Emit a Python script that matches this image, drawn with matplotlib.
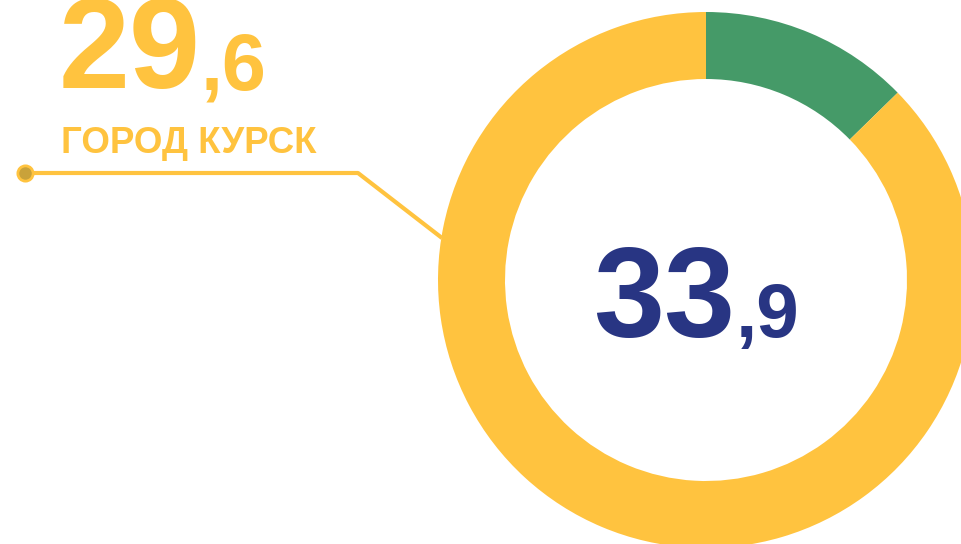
import matplotlib.pyplot as plt

# данные
labels = ["Прочие", "Город Курск"]
shares = [4.3, 29.6]
total_int, total_dec = "33", ",9"
kursk_int, kursk_dec = "29", ",6"
kursk_label = "ГОРОД КУРСК"

YELLOW = "#FFC33F"
GREEN = "#459A68"
BLUE = "#283583"
DOT = "#C9A23A"

W, H = 961, 544
fig = plt.figure(figsize=(9.61, 5.44), dpi=100)
ax = fig.add_axes([0, 0, 1, 1])

def Y(y):
    # пиксельная координата сверху -> снизу
    return H - y

# кольцевая диаграмма
ax.pie(shares, colors=[GREEN, YELLOW], startangle=90, counterclock=False,
       center=(706, Y(280)), radius=268,
       wedgeprops=dict(width=67, edgecolor="none", linewidth=0))

# выноска
ax.plot([25, 358, 442], [Y(173), Y(173), Y(238)], color=YELLOW, lw=3,
        solid_capstyle="butt", zorder=0)
ax.plot([25], [Y(173)], marker="o", ms=11, mfc=DOT, mec=YELLOW, mew=2, zorder=3)

font = "Liberation Sans"
ax.text(59, Y(88), kursk_int, fontsize=92, fontweight="bold", color=YELLOW,
        family=font, ha="left", va="baseline")
ax.text(201, Y(89), kursk_dec, fontsize=57, fontweight="bold", color=YELLOW,
        family=font, ha="left", va="baseline")
ax.text(61, Y(153), kursk_label, fontsize=26.4, fontweight="bold", color=YELLOW,
        family=font, ha="left", va="baseline")

ax.text(593, Y(337), total_int, fontsize=92, fontweight="bold", color=BLUE,
        family=font, ha="left", va="baseline")
ax.text(736, Y(337), total_dec, fontsize=55, fontweight="bold", color=BLUE,
        family=font, ha="left", va="baseline")

ax.set_xlim(0, W)
ax.set_ylim(0, H)
ax.set_aspect("auto")
ax.axis("off")

fig.savefig("out.png", dpi=100)
